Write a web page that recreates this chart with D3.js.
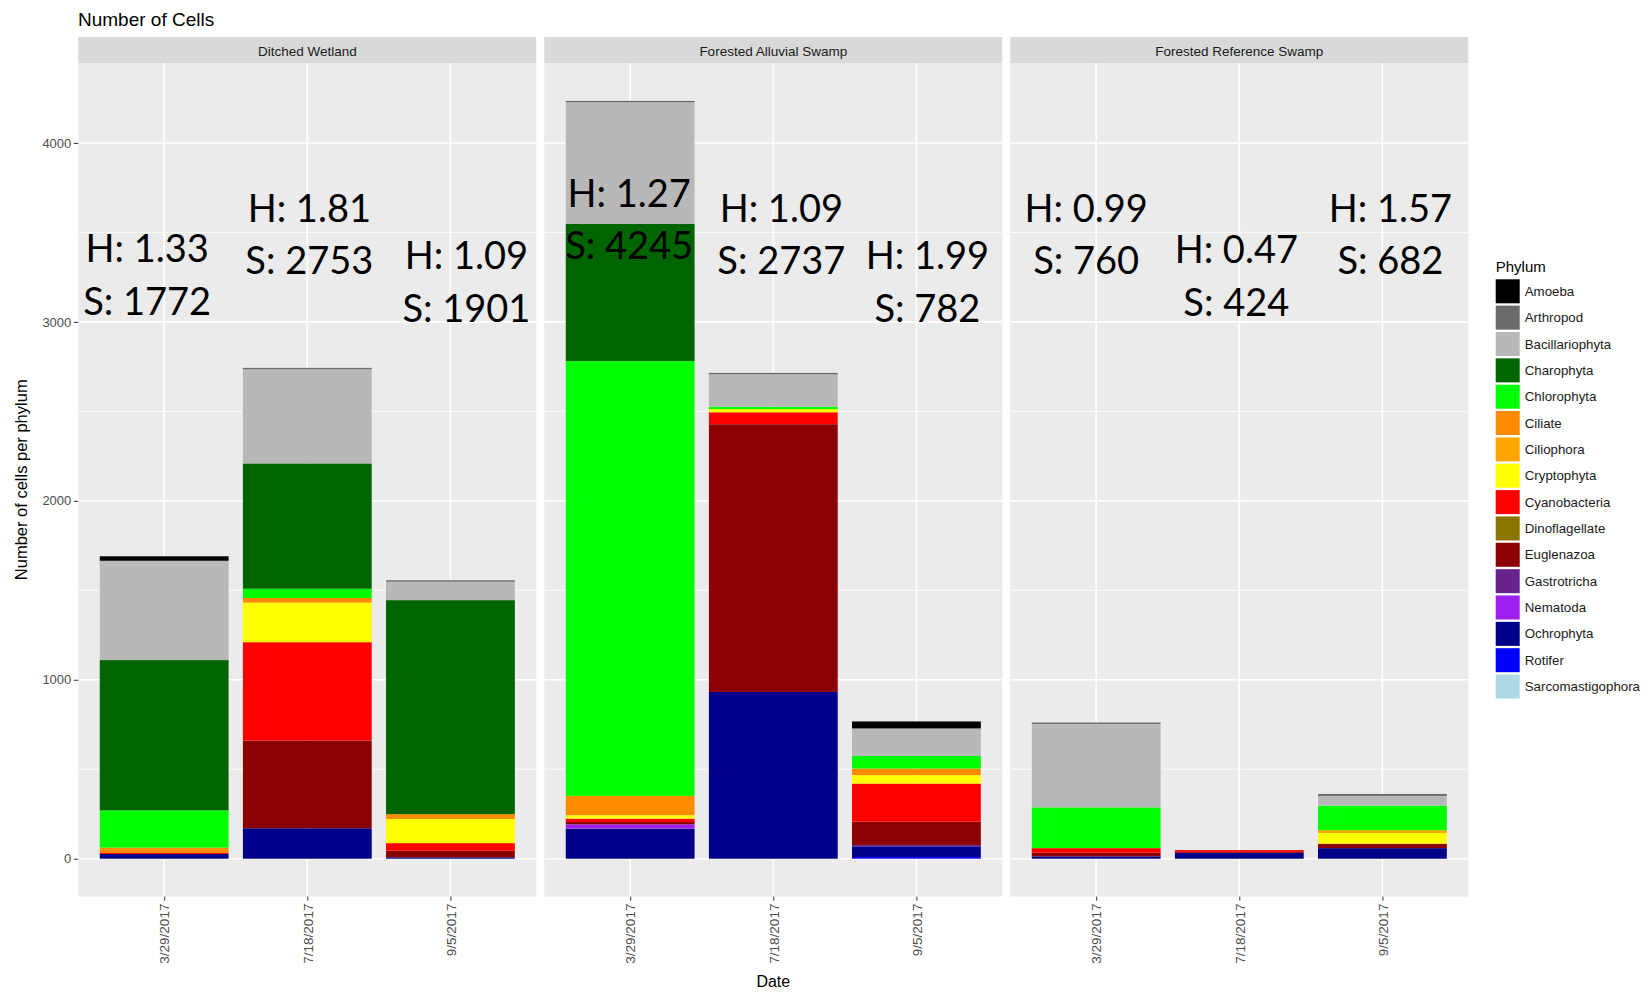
<!DOCTYPE html>
<html>
<head>
<meta charset="utf-8">
<script src="https://cdn.jsdelivr.net/npm/d3@7"></script>
<style>
  body { margin: 0; background: #ffffff; }
  svg { display: block; }
</style>
</head>
<body>
<svg id="chart" width="1652" height="992"></svg>
<script>
// ---------------- DATA ----------------
const sites = ["Ditched Wetland", "Forested Alluvial Swamp", "Forested Reference Swamp"];
const dates = ["3/29/2017", "7/18/2017", "9/5/2017"];
const phyla = ["Amoeba", "Arthropod", "Bacillariophyta", "Charophyta", "Chlorophyta", "Ciliate",
  "Ciliophora", "Cryptophyta", "Cyanobacteria", "Dinoflagellate", "Euglenazoa", "Gastrotricha",
  "Nematoda", "Ochrophyta", "Rotifer", "Sarcomastigophora"];
const phylumColors = ["#000000", "#6b6b6b", "#b8b8b8", "#006400", "#00ff00", "#ff8c00",
  "#ffa500", "#ffff00", "#ff0000", "#8b7500", "#8b0000", "#68228b",
  "#a020f0", "#00008b", "#0000ff", "#add8e6"];

// values per phylum, order: DW 3/29, DW 7/18, DW 9/5, FA 3/29, FA 7/18, FA 9/5, FR 3/29, FR 7/18, FR 9/5
const amoeba            = [25, 0, 0, 0, 0, 39, 0, 0, 0];
const arthropod         = [0, 8, 8, 8, 8, 0, 8, 0, 11];
const bacillariophyta   = [555, 526, 103, 680, 181, 153, 466, 0, 54];
const charophyta        = [840, 700, 1196, 766, 0, 0, 0, 0, 0];
const chlorophyta       = [208, 52, 0, 2430, 13, 71, 228, 0, 138];
const ciliate           = [30, 26, 27, 108, 0, 37, 0, 0, 0];
const ciliophora        = [0, 0, 0, 0, 0, 0, 0, 0, 15];
const cryptophyta       = [0, 221, 135, 19, 18, 47, 0, 0, 60];
const cyanobacteria     = [6, 550, 42, 19, 67, 213, 26, 10, 0];
const dinoflagellate    = [0, 0, 0, 0, 0, 0, 0, 0, 0];
const euglenazoa        = [0, 490, 37, 13, 1496, 130, 20, 5, 25];
const gastrotricha      = [0, 0, 0, 0, 0, 8, 0, 0, 0];
const nematoda          = [0, 0, 0, 24, 0, 0, 0, 0, 0];
const ochrophyta        = [26, 170, 8, 168, 932, 60, 13, 33, 59];
const rotifer           = [0, 0, 0, 0, 0, 9, 0, 0, 0];
const sarcomastigophora = [0, 0, 0, 0, 0, 0, 0, 0, 0];

const shannonH  = ["1.33", "1.81", "1.09", "1.27", "1.09", "1.99", "0.99", "0.47", "1.57"];
const richnessS = ["1772", "2753", "1901", "4245", "2737", "782", "760", "424", "682"];
// annotation anchor (data units, baseline of the "H:" line)
const labelValue = [3335, 3559, 3296, 3643, 3559, 3296, 3559, 3329, 3559];

const yMajorTicks = [0, 1000, 2000, 3000, 4000];
const yMinorTicks = [500, 1500, 2500, 3500];

// ---------------- LAYOUT ----------------
const panelTop = 63, panelBottom = 896.6;
const stripTop = 37;
const panelLefts = [78.3, 544.3, 1010.3];
const panelW = 458;
const labelDx = [-17, 2, 16, -1, 8, 11, -10, -3, 8];

const seriesArrays = [amoeba, arthropod, bacillariophyta, charophyta, chlorophyta, ciliate,
  ciliophora, cryptophyta, cyanobacteria, dinoflagellate, euglenazoa, gastrotricha,
  nematoda, ochrophyta, rotifer, sarcomastigophora];

const rows = [];
sites.forEach((s, si) => dates.forEach((d, di) => {
  const idx = si * 3 + di;
  const r = { site: s, date: d, idx };
  phyla.forEach((p, pi) => r[p] = seriesArrays[pi][idx]);
  rows.push(r);
}));

const color = d3.scaleOrdinal().domain(phyla).range(phylumColors);
const stackKeys = phyla.slice().reverse(); // first legend level on top
const totals = rows.map(r => d3.sum(phyla, p => r[p]));
const maxT = d3.max(totals);

const y = d3.scaleLinear().domain([-0.05 * maxT, 1.05 * maxT]).range([panelBottom, panelTop]);
const x = d3.scalePoint().domain(dates).range([0, panelW]).padding(0.6);
const barW = x.step() * 0.9;

const svg = d3.select("#chart");
const FONT = "'Liberation Sans', Arial, sans-serif";

// title
svg.append("text").attr("x", 78).attr("y", 26)
  .attr("font-family", FONT).attr("font-size", 19).attr("fill", "#000")
  .text("Number of Cells");

sites.forEach((site, si) => {
  const g = svg.append("g").attr("transform", `translate(${panelLefts[si]},0)`);
  // strip
  g.append("rect").attr("x", 0).attr("y", stripTop).attr("width", panelW)
    .attr("height", panelTop - stripTop).attr("fill", "#d9d9d9");
  g.append("text").attr("x", panelW / 2).attr("y", 55.5)
    .attr("text-anchor", "middle").attr("font-family", FONT).attr("font-size", 13.5)
    .attr("fill", "#1a1a1a").text(site);
  // panel bg
  g.append("rect").attr("x", 0).attr("y", panelTop).attr("width", panelW)
    .attr("height", panelBottom - panelTop).attr("fill", "#ebebeb");
  // grid
  g.selectAll(".minor").data(yMinorTicks).join("line")
    .attr("x1", 0).attr("x2", panelW).attr("y1", d => y(d)).attr("y2", d => y(d))
    .attr("stroke", "#ffffff").attr("stroke-width", 0.8);
  g.selectAll(".major").data(yMajorTicks).join("line")
    .attr("x1", 0).attr("x2", panelW).attr("y1", d => y(d)).attr("y2", d => y(d))
    .attr("stroke", "#ffffff").attr("stroke-width", 1.6);
  g.selectAll(".vgrid").data(dates).join("line")
    .attr("x1", d => x(d)).attr("x2", d => x(d)).attr("y1", panelTop).attr("y2", panelBottom)
    .attr("stroke", "#ffffff").attr("stroke-width", 1.6);

  // bars
  const siteRows = rows.filter(r => r.site === site);
  const stacked = d3.stack().keys(stackKeys)(siteRows);
  g.selectAll(".layer").data(stacked).join("g")
    .attr("fill", d => color(d.key))
    .selectAll("rect").data(d => d).join("rect")
    .attr("x", d => x(d.data.date) - barW / 2)
    .attr("width", barW)
    .attr("y", d => y(d[1]))
    .attr("height", d => Math.max(0, y(d[0]) - y(d[1])));

  // x axis
  const xa = g.append("g").attr("transform", `translate(0,${panelBottom})`)
    .call(d3.axisBottom(x).tickSize(4).tickSizeOuter(0));
  xa.select(".domain").remove();
  xa.selectAll(".tick line").attr("stroke", "#333333").attr("stroke-width", 1);
  xa.selectAll(".tick text")
    .attr("transform", "rotate(-90)")
    .attr("x", -7).attr("y", 0).attr("dy", "0.35em")
    .attr("text-anchor", "end")
    .attr("font-family", FONT).attr("font-size", 13.5).attr("fill", "#4d4d4d");

  // annotations
  siteRows.forEach(r => {
    const cx = x(r.date) + labelDx[r.idx];
    const by = y(labelValue[r.idx]);
    const t = g.append("text").attr("text-anchor", "middle")
      .attr("font-family", "Lato, 'Open Sans', sans-serif").attr("font-size", 38).attr("fill", "#000");
    t.append("tspan").attr("x", cx).attr("y", by).text("H: " + shannonH[r.idx]);
    t.append("tspan").attr("x", cx).attr("y", by + 52.6).text("S: " + richnessS[r.idx]);
  });
});

// y axis
const ya = svg.append("g").attr("transform", `translate(${panelLefts[0]},0)`)
  .call(d3.axisLeft(y).tickValues(yMajorTicks).tickFormat(d3.format("d")).tickSize(4.5).tickPadding(2.5));
ya.select(".domain").remove();
ya.selectAll(".tick line").attr("stroke", "#333333");
ya.selectAll(".tick text").attr("font-family", FONT).attr("font-size", 13).attr("fill", "#4d4d4d");

// axis titles
svg.append("text")
  .attr("transform", `translate(27,${(panelTop + panelBottom) / 2}) rotate(-90)`)
  .attr("text-anchor", "middle").attr("font-family", FONT).attr("font-size", 16.5).attr("fill", "#000")
  .text("Number of cells per phylum");
svg.append("text")
  .attr("x", (panelLefts[0] + panelLefts[2] + panelW) / 2).attr("y", 986.5)
  .attr("text-anchor", "middle").attr("font-family", FONT).attr("font-size", 16).attr("fill", "#000")
  .text("Date");

// legend
const lg = svg.append("g").attr("transform", "translate(1495.7,0)");
lg.append("text").attr("x", 0).attr("y", 272).attr("font-family", FONT)
  .attr("font-size", 15).attr("fill", "#000").text("Phylum");
const keyH = 26.35;
const items = lg.selectAll(".item").data(phyla).join("g")
  .attr("transform", (d, i) => `translate(0,${279.3 + i * keyH})`);
items.append("rect").attr("width", 24).attr("height", 24).attr("fill", d => color(d));
items.append("text").attr("x", 29).attr("y", 12).attr("dy", "0.35em")
  .attr("font-family", FONT).attr("font-size", 13.3).attr("fill", "#1a1a1a").text(d => d);
</script>
</body>
</html>
